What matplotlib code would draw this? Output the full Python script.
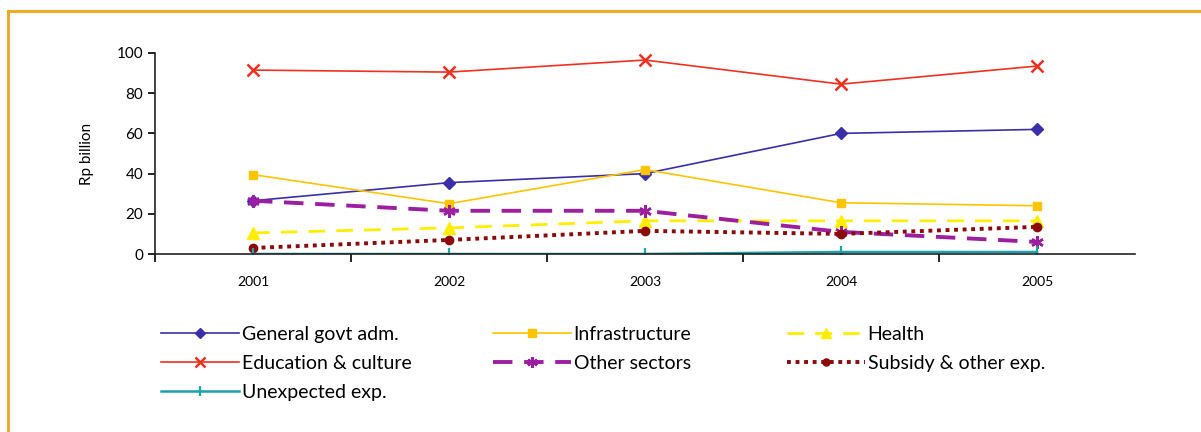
import matplotlib
matplotlib.use("Agg")
import matplotlib.pyplot as plt
from matplotlib.lines import Line2D
from matplotlib.ticker import FixedLocator
import numpy as np

years = ["2001", "2002", "2003", "2004", "2005"]
general_govt = [26.5, 35.5, 40.0, 60.0, 62.0]
infrastructure = [39.5, 25.0, 42.0, 25.5, 24.0]
health = [10.5, 13.0, 16.5, 16.5, 16.5]
education = [91.5, 90.5, 96.5, 84.5, 93.5]
other_sectors = [26.5, 21.5, 21.5, 11.0, 6.0]
subsidy = [3.0, 7.0, 11.5, 10.0, 13.5]
unexpected = [0.0, 0.0, 0.0, 1.0, 1.0]

plt.rcParams['font.family'] = ['Lato', 'DejaVu Sans']

fig = plt.figure(figsize=(12.01, 4.32), dpi=100)
W, H = 1201, 432
frame_kw = dict(transform=fig.transFigure, color='#F5A31A', lw=2)
fig.add_artist(Line2D([8/W, 1.05], [1 - 11/H, 1 - 11/H], **frame_kw))
fig.add_artist(Line2D([8/W, 8/W], [1 - 11/H, -0.05], **frame_kw))

ax = fig.add_axes([155/W, 1 - 254/H, (1135 - 155)/W, (254 - 53)/H])

x = np.arange(len(years))
h_gen, = ax.plot(x, general_govt, color='#3A2FA8', lw=1.2, marker='D', ms=6, label='General govt adm.')
h_inf, = ax.plot(x, infrastructure, color='#FFC400', lw=1.2, marker='s', ms=6, label='Infrastructure')
h_hea, = ax.plot(x, health, color='#FFEE00', lw=2.0, ls=(0, (6, 4)), marker='^', ms=8, label='Health')
h_edu, = ax.plot(x, education, color='#F03020', lw=1.2, marker='x', ms=8, mew=1.8, label='Education & culture')
h_oth, = ax.plot(x, other_sectors, color='#9B1FA0', lw=2.8, ls=(0, (5, 3)), marker=(6, 2, 0), ms=9, mew=1.8, label='Other sectors')
h_sub, = ax.plot(x, subsidy, color='#8B0A0A', lw=2.8, ls=(0, (1, 1.2)), marker='o', ms=6, label='Subsidy & other exp.')
h_une, = ax.plot(x, unexpected, color='#1AA3A8', lw=1.8, marker='|', ms=9, mew=1.6, label='Unexpected exp.')

ax.set_xlim(-0.5, 4.5)
ax.set_ylim(0, 100)
ax.set_yticks([0, 20, 40, 60, 80, 100])
ax.xaxis.set_major_locator(FixedLocator([-0.5, 0.5, 1.5, 2.5, 3.5]))
ax.xaxis.set_minor_locator(FixedLocator(x))
ax.set_xticklabels([], minor=False)
ax.set_xticklabels(years, minor=True)
ax.tick_params(axis='x', which='major', direction='out', length=6, width=1.2)
ax.tick_params(axis='x', which='minor', length=0, pad=16, labelsize=10)
ax.tick_params(axis='y', direction='out', length=5, width=1.2, labelsize=11)
for s in ['top', 'right']:
    ax.spines[s].set_visible(False)
for s in ['left', 'bottom']:
    ax.spines[s].set_linewidth(1.2)
    ax.spines[s].set_color('#222222')
ax.set_ylabel('Rp billion', fontsize=11, labelpad=16)

columns = [
    ([h_gen, h_edu, h_une], 161),
    ([h_inf, h_oth], 493),
    ([h_hea, h_sub], 787),
]
for handles, xpx in columns:
    leg = fig.legend(handles=handles, loc='upper left', bbox_to_anchor=(xpx/W, 1 - 326/H),
                     frameon=False, fontsize=14, handlelength=4.0, handletextpad=0.15,
                     labelspacing=0.62, borderaxespad=0, borderpad=0, markerscale=0.85)

fig.savefig('out.png', dpi=100)
